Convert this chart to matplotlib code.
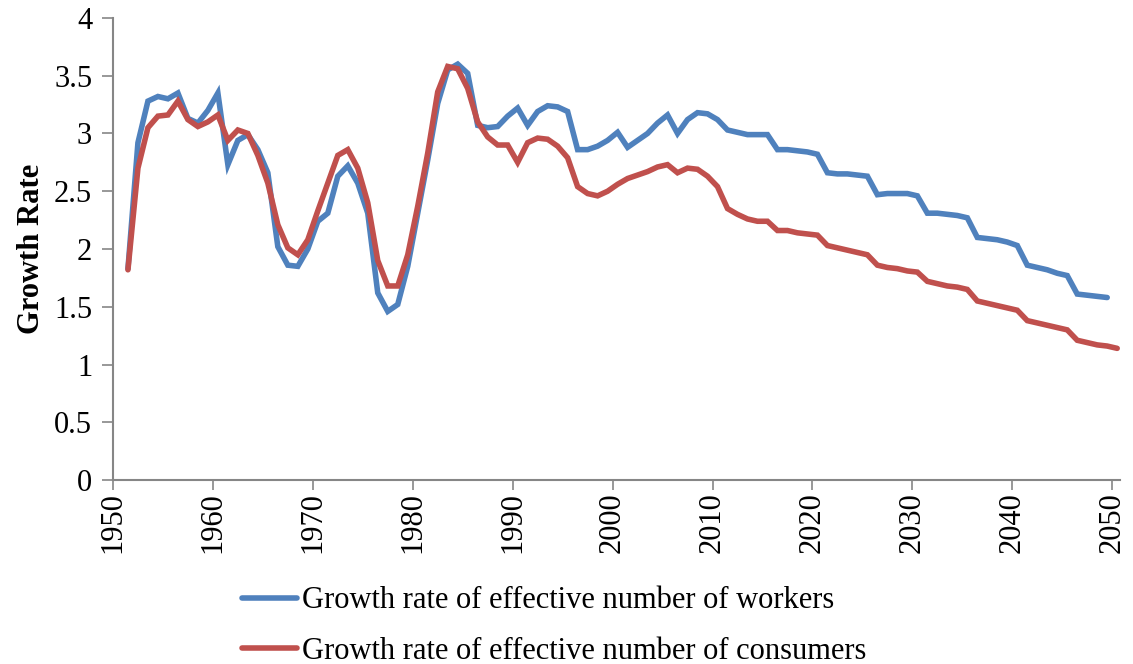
import matplotlib
matplotlib.use("Agg")
import matplotlib.pyplot as plt
import numpy as np

# annual growth rates, 1951-2050 (workers series ends 2049)
years = np.arange(1951, 2051)

workers = [
    1.83, 2.92, 3.28, 3.32, 3.30, 3.35, 3.13, 3.09, 3.20, 3.35,   # 1951-1960
    2.73, 2.94, 2.99, 2.86, 2.66, 2.02, 1.86, 1.85, 2.00, 2.24,   # 1961-1970
    2.31, 2.63, 2.72, 2.57, 2.31, 1.62, 1.46, 1.52, 1.85, 2.31,   # 1971-1980
    2.77, 3.26, 3.55, 3.60, 3.52, 3.07, 3.05, 3.06, 3.15, 3.22,   # 1981-1990
    3.07, 3.19, 3.24, 3.23, 3.19, 2.86, 2.86, 2.89, 2.94, 3.01,   # 1991-2000
    2.88, 2.94, 3.00, 3.09, 3.16, 3.00, 3.12, 3.18, 3.17, 3.12,   # 2001-2010
    3.03, 3.01, 2.99, 2.99, 2.99, 2.86, 2.86, 2.85, 2.84, 2.82,   # 2011-2020
    2.66, 2.65, 2.65, 2.64, 2.63, 2.47, 2.48, 2.48, 2.48, 2.46,   # 2021-2030
    2.31, 2.31, 2.30, 2.29, 2.27, 2.10, 2.09, 2.08, 2.06, 2.03,   # 2031-2040
    1.86, 1.84, 1.82, 1.79, 1.77, 1.61, 1.60, 1.59, 1.58,         # 2041-2049
]

consumers = [
    1.82, 2.70, 3.05, 3.15, 3.16, 3.28, 3.12, 3.06, 3.10, 3.16,
    2.94, 3.03, 3.00, 2.81, 2.57, 2.21, 2.01, 1.95, 2.08, 2.33,
    2.57, 2.81, 2.86, 2.70, 2.40, 1.90, 1.68, 1.68, 1.95, 2.37,
    2.83, 3.36, 3.58, 3.56, 3.39, 3.10, 2.97, 2.90, 2.90, 2.75,
    2.92, 2.96, 2.95, 2.89, 2.79, 2.54, 2.48, 2.46, 2.50, 2.56,
    2.61, 2.64, 2.67, 2.71, 2.73, 2.66, 2.70, 2.69, 2.63, 2.54,
    2.35, 2.30, 2.26, 2.24, 2.24, 2.16, 2.16, 2.14, 2.13, 2.12,
    2.03, 2.01, 1.99, 1.97, 1.95, 1.86, 1.84, 1.83, 1.81, 1.80,
    1.72, 1.70, 1.68, 1.67, 1.65, 1.55, 1.53, 1.51, 1.49, 1.47,
    1.38, 1.36, 1.34, 1.32, 1.30, 1.21, 1.19, 1.17, 1.16, 1.14,
]

labels = ["Growth rate of effective number of workers",
          "Growth rate of effective number of consumers"]

plt.rcParams["font.family"] = ["Liberation Serif", "DejaVu Serif"]
FS = 22

fig = plt.figure(figsize=(11.33, 6.64), dpi=100)
ax = fig.add_axes([0.0997, 0.277, 0.889, 0.696])

# points sit mid-category, as in the Excel original
ax.plot(years[:len(workers)] + 0.5, workers, color="#4F81BD", lw=4,
        solid_joinstyle="miter", solid_capstyle="round", label=labels[0])
ax.plot(years + 0.5, consumers, color="#C0504D", lw=4,
        solid_joinstyle="miter", solid_capstyle="round", label=labels[1])

ax.set_xlim(1950, 2050.8)
ax.set_ylim(0, 4)
ax.set_xticks(np.arange(1950, 2051, 10))
ax.set_yticks(np.arange(0, 4.01, 0.5))
ax.set_yticklabels(["0", "0.5", "1", "1.5", "2", "2.5", "3", "3.5", "4"])
ax.tick_params(axis="x", labelrotation=90, labelsize=FS, length=7,
               color="#868686", width=1.2, pad=2)
ax.tick_params(axis="y", labelsize=FS, length=8, color="#868686",
               width=1.2, pad=7)
for s in ["top", "right"]:
    ax.spines[s].set_visible(False)
for s in ["left", "bottom"]:
    ax.spines[s].set_color("#868686")
    ax.spines[s].set_linewidth(1.5)

ax.set_ylabel("Growth Rate", fontsize=FS, fontweight="bold", labelpad=6)

fig.legend(loc="upper left", bbox_to_anchor=(0.214, 0.117), frameon=False,
           fontsize=FS, handlelength=1.8, handletextpad=0.15,
           labelspacing=0.7, borderaxespad=0, borderpad=0)

plt.savefig("out.png", dpi=100)
